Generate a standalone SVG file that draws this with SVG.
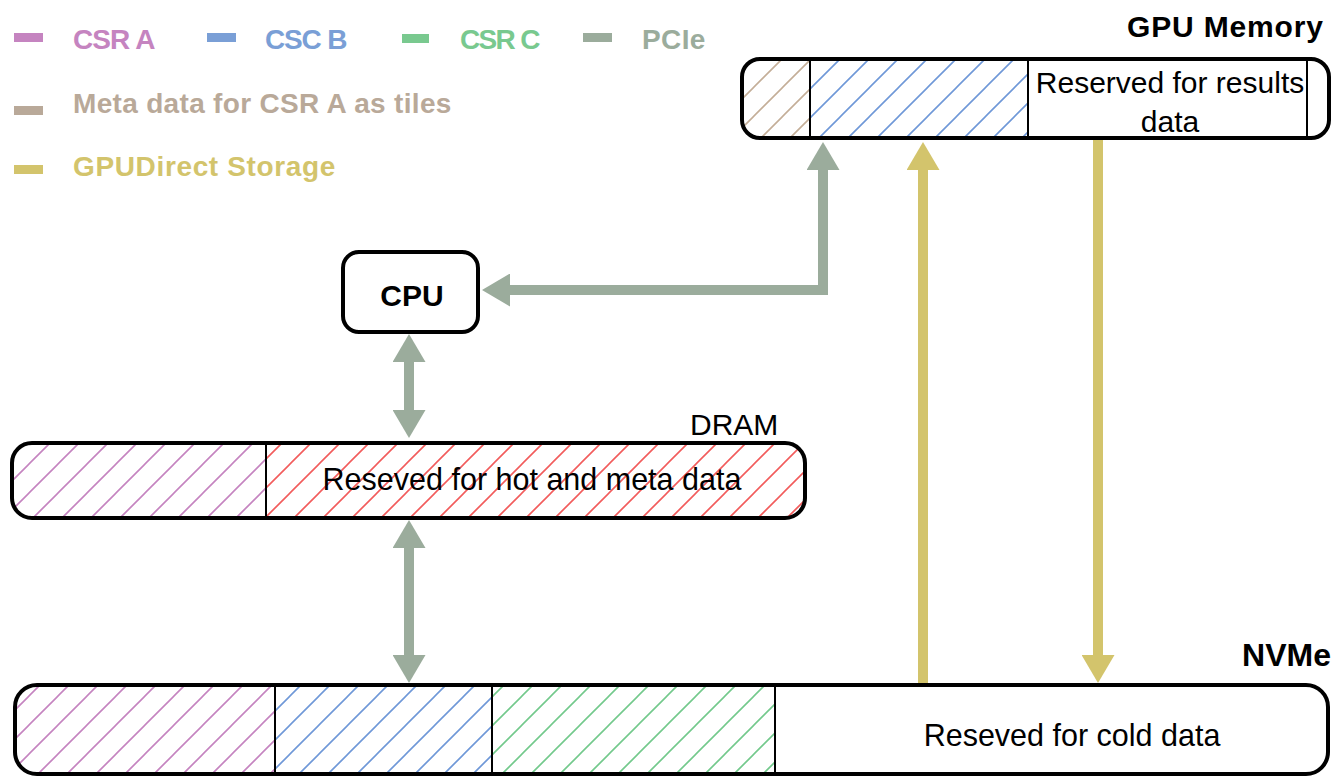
<svg xmlns="http://www.w3.org/2000/svg" width="1331" height="776" viewBox="0 0 1331 776">
<style>
.box{fill:none;stroke:#000;stroke-width:4}
.div{stroke:#000;stroke-width:2}
.t{font-family:"Liberation Sans",Arial,sans-serif;fill:#000}
.b{font-weight:bold}
.lg{font-family:"Liberation Sans",Arial,sans-serif;font-weight:bold;font-size:28px;letter-spacing:-0.4px}
.pcie{fill:none;stroke:#9bac9c;stroke-width:10;stroke-linejoin:miter}
.gds{fill:none;stroke:#d3c46c;stroke-width:10}
</style>
<defs>
<pattern id="hA" patternUnits="userSpaceOnUse" width="29" height="29"><path d="M-2,31 L31,-2 M-2,2 L2,-2 M27,31 L31,27" stroke="#c584c0" stroke-width="1.6"/></pattern>
<pattern id="hB" patternUnits="userSpaceOnUse" width="29" height="29"><path d="M-2,31 L31,-2 M-2,2 L2,-2 M27,31 L31,27" stroke="#6f98d8" stroke-width="1.6"/></pattern>
<pattern id="hC" patternUnits="userSpaceOnUse" width="29" height="29"><path d="M-2,31 L31,-2 M-2,2 L2,-2 M27,31 L31,27" stroke="#73c98c" stroke-width="1.6"/></pattern>
<pattern id="hM" patternUnits="userSpaceOnUse" width="29" height="29"><path d="M-2,31 L31,-2 M-2,2 L2,-2 M27,31 L31,27" stroke="#c4ae98" stroke-width="1.6"/></pattern>
<pattern id="hR" patternUnits="userSpaceOnUse" width="29" height="29"><path d="M-2,31 L31,-2 M-2,2 L2,-2 M27,31 L31,27" stroke="#f25c5c" stroke-width="1.6"/></pattern>
<clipPath id="cGPU"><rect x="742" y="59" width="587" height="79" rx="18"/></clipPath>
<clipPath id="cDRAM"><rect x="12" y="443" width="793" height="75" rx="20"/></clipPath>
<clipPath id="cNVMe"><rect x="15" y="685" width="1313" height="89" rx="22"/></clipPath>
<marker id="ap" viewBox="0 0 28 33" markerWidth="28" markerHeight="33" refX="0" refY="16.5" orient="auto-start-reverse" markerUnits="userSpaceOnUse"><path d="M0,0 L28,16.5 L0,33 Z" fill="#9bac9c"/></marker>
<marker id="ag" viewBox="0 0 28 33" markerWidth="28" markerHeight="33" refX="0" refY="16.5" orient="auto-start-reverse" markerUnits="userSpaceOnUse"><path d="M0,0 L28,16.5 L0,33 Z" fill="#d3c46c"/></marker>
</defs>
<rect width="1331" height="776" fill="#fff"/>

<g id="legend">
<rect x="14" y="33" width="29" height="9" fill="#c584c0"/>
<text class="lg" x="73" y="49" fill="#c584c0" textLength="82">CSR A</text>
<rect x="207" y="33" width="29" height="9" fill="#7a9fd6"/>
<text class="lg" x="265" y="49" fill="#7a9fd6" textLength="82">CSC B</text>
<rect x="402" y="34" width="27" height="9" fill="#79c98f"/>
<text class="lg" x="460" y="49" fill="#79c98f" textLength="80">CSR C</text>
<rect x="583" y="33" width="29" height="9" fill="#9bac9c"/>
<text class="lg" x="642" y="49" fill="#9bac9c" textLength="63">PCIe</text>
<rect x="14" y="106" width="29" height="9" fill="#b9a999"/>
<text class="lg" x="73" y="113" fill="#b9a999" textLength="378">Meta data for CSR A as tiles</text>
<rect x="14" y="165" width="29" height="9" fill="#d3c46c"/>
<text class="lg" x="73" y="176" fill="#d3c46c" textLength="262">GPUDirect Storage</text>
</g>

<g id="connectors">
<path class="pcie" d="M823,170 L823,290 L510,290" marker-start="url(#ap)" marker-end="url(#ap)"/>
<path class="pcie" d="M409,362 L409,410" marker-start="url(#ap)" marker-end="url(#ap)"/>
<path class="pcie" d="M409,548 L409,655" marker-start="url(#ap)" marker-end="url(#ap)"/>
<path class="gds" d="M923,685 L923,170" marker-end="url(#ag)"/>
<path class="gds" d="M1098,140 L1098,655" marker-end="url(#ag)"/>
</g>

<g id="gpu">
<text class="t b" x="1323" y="37" font-size="30" text-anchor="end" textLength="196">GPU Memory</text>
<g clip-path="url(#cGPU)">
<rect x="742" y="59" width="68" height="79" fill="url(#hM)"/>
<rect x="810" y="59" width="218" height="79" fill="url(#hB)"/>
<rect x="1028" y="59" width="301" height="79" fill="#fff"/>
</g>
<line class="div" x1="810" y1="59" x2="810" y2="138"/>
<line class="div" x1="1028" y1="59" x2="1028" y2="138" stroke-width="3"/>
<line class="div" x1="1307" y1="59" x2="1307" y2="138" stroke-width="3"/>
<rect class="box" x="742" y="59" width="587" height="79" rx="18"/>
<text class="t" x="1170" y="93" font-size="30" text-anchor="middle">Reserved for results</text>
<text class="t" x="1170" y="132" font-size="30" text-anchor="middle">data</text>
</g>

<g id="cpu">
<rect class="box" x="343" y="252" width="135" height="80" rx="16"/>
<text class="t b" x="412" y="306" font-size="30" text-anchor="middle">CPU</text>
</g>

<g id="dram">
<text class="t" x="690" y="435" font-size="30">DRAM</text>
<g clip-path="url(#cDRAM)">
<rect x="12" y="443" width="254" height="75" fill="url(#hA)"/>
<rect x="266" y="443" width="539" height="75" fill="url(#hR)"/>
</g>
<line class="div" x1="266" y1="443" x2="266" y2="518"/>
<rect class="box" x="12" y="443" width="793" height="75" rx="20"/>
<text class="t" x="532" y="490" font-size="30.5" text-anchor="middle">Reseved for hot and meta data</text>
</g>

<g id="nvme">
<text class="t b" x="1331" y="666" font-size="32" text-anchor="end">NVMe</text>
<g clip-path="url(#cNVMe)">
<rect x="15" y="685" width="260" height="89" fill="url(#hA)"/>
<rect x="275" y="685" width="217" height="89" fill="url(#hB)"/>
<rect x="492" y="685" width="283" height="89" fill="url(#hC)"/>
</g>
<line class="div" x1="275" y1="685" x2="275" y2="774"/>
<line class="div" x1="492" y1="685" x2="492" y2="774"/>
<line class="div" x1="775" y1="685" x2="775" y2="774"/>
<rect class="box" x="15" y="685" width="1313" height="89" rx="22"/>
<text class="t" x="1072" y="746" font-size="30.5" text-anchor="middle">Reseved for cold data</text>
</g>
</svg>
